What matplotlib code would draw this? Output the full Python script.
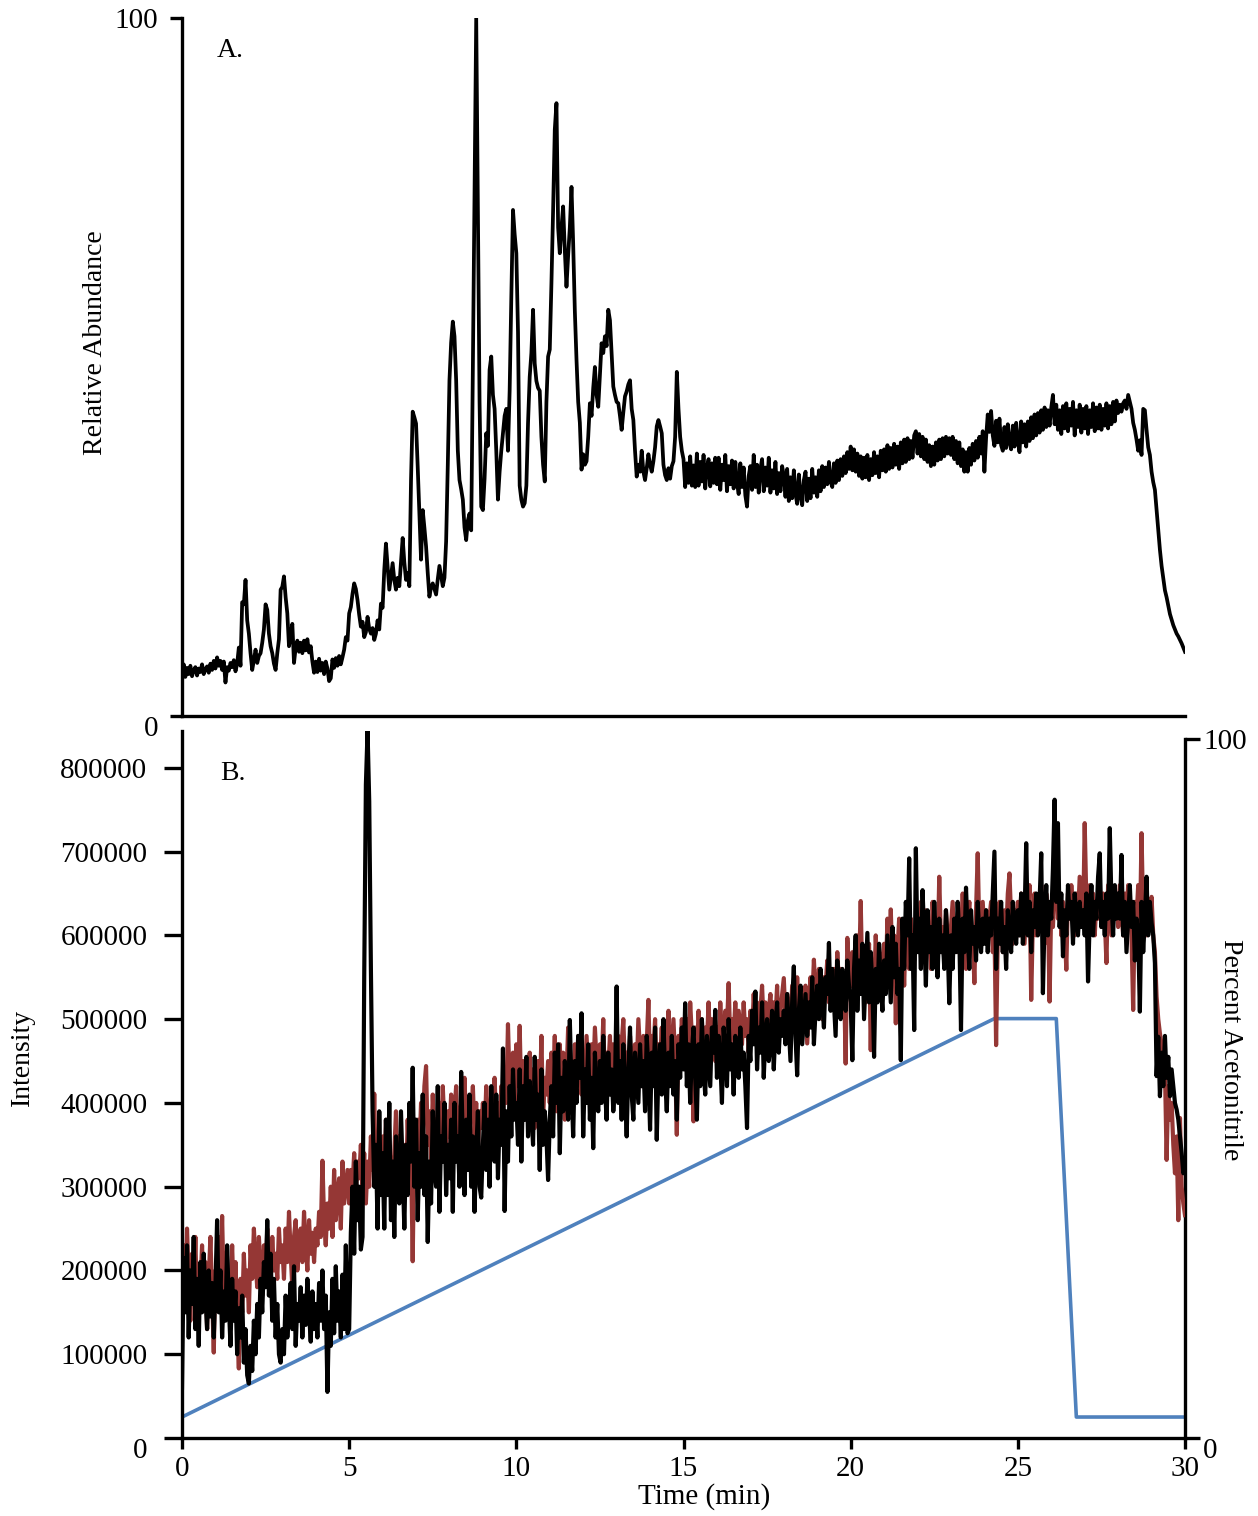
import numpy as np
import matplotlib
matplotlib.use("Agg")
from matplotlib import pyplot as plt

plt.rcParams['font.family'] = ['Liberation Serif', 'DejaVu Serif']
plt.rcParams['font.size'] = 20

# sampled every 0.05 min, one row per minute, last value at 30 min
abundance = [
    5.0, 7.4, 5.6, 6.9, 6.0, 7.2, 5.7, 6.6, 7.0, 5.8, 6.8, 6.3, 7.4, 6.0, 6.7, 7.1, 6.2, 7.5, 6.6, 7.9,
    6.8, 8.4, 7.2, 7.9, 6.6, 7.8, 4.8, 7.0, 6.5, 7.6, 7.0, 8.0, 6.4, 7.5, 9.8, 7.2, 16.3, 16.0, 19.5, 13.7,
    11.8, 9.0, 6.6, 8.0, 9.5, 7.6, 8.6, 9.0, 10.5, 12.4, 16.0, 15.2, 11.8, 10.0, 9.0, 7.5, 6.6, 9.0, 11.0, 18.1,
    18.5, 20.0, 17.0, 14.7, 10.0, 11.5, 13.2, 7.6, 9.8, 10.8, 9.2, 10.5, 9.0, 10.8, 9.4, 11.0, 9.1, 10.0, 7.8, 6.2,
    7.8, 6.3, 8.2, 6.5, 7.6, 6.0, 7.8, 6.8, 5.0, 5.4, 8.1, 6.9, 8.3, 7.2, 8.6, 7.4, 8.4, 9.5, 11.3, 10.8,
    14.7, 15.6, 17.5, 19.0, 18.2, 16.6, 14.5, 12.8, 13.5, 11.3, 12.0, 14.2, 12.5, 11.8, 12.6, 10.9, 11.8, 13.7, 12.4, 16.1,
    15.5, 20.9, 24.7, 21.5, 18.1, 20.0, 21.9, 19.5, 18.1, 19.8, 18.6, 22.0, 25.5, 22.0, 19.5, 20.5, 18.6, 33.8, 43.6, 42.8,
    41.9, 35.7, 29.0, 22.4, 29.5, 27.0, 24.3, 20.5, 17.1, 18.5, 19.0, 18.2, 17.4, 19.6, 21.5, 20.0, 18.6, 19.8, 25.0, 36.0,
    48.1, 53.5, 56.5, 54.4, 48.1, 38.0, 33.8, 32.5, 31.0, 27.0, 25.2, 28.0, 29.0, 26.6, 50.0, 75.0, 100.0, 72.0, 45.0, 30.0,
    29.5, 34.0, 40.5, 38.7, 49.6, 51.5, 46.0, 44.0, 38.0, 31.0, 35.0, 38.0, 40.5, 43.0, 44.0, 38.0, 46.6, 60.0, 72.5, 69.0,
    66.3, 55.0, 33.0, 31.0, 30.0, 30.5, 33.0, 42.0, 48.6, 52.0, 58.2, 50.5, 48.0, 47.0, 46.6, 40.0, 36.0, 33.6, 45.0, 51.5,
    52.5, 62.0, 72.5, 84.0, 87.8, 70.0, 66.3, 70.0, 73.0, 66.7, 61.5, 66.0, 70.0, 75.8, 67.7, 58.0, 51.0, 45.0, 42.0, 35.3,
    37.5, 36.0, 36.5, 40.0, 44.8, 43.0, 47.0, 50.0, 46.0, 44.3, 49.0, 53.4, 52.0, 54.4, 53.0, 58.2, 56.7, 52.0, 47.2, 46.0,
    45.0, 44.8, 43.0, 41.0, 43.5, 45.8, 46.5, 47.5, 48.1, 44.0, 42.4, 38.0, 34.3, 36.0, 35.0, 38.0, 35.0, 33.8, 35.5, 37.5,
    36.0, 35.0, 36.5, 38.5, 41.5, 42.4, 41.5, 40.5, 36.0, 34.5, 33.8, 35.5, 34.0, 35.8, 36.5, 40.0, 49.3, 44.0, 40.0, 38.0,
    36.8, 32.8, 36.2, 33.4, 37.2, 33.0, 35.9, 32.8, 37.6, 33.0, 36.4, 33.6, 37.4, 32.6, 35.6, 36.8, 32.9, 36.2, 33.4, 37.0,
    33.2, 37.0, 32.4, 36.0, 33.8, 37.4, 32.2, 35.8, 33.2, 36.6, 32.6, 36.4, 33.4, 31.8, 36.2, 32.8, 35.6, 31.6, 30.0, 34.4,
    35.8, 32.4, 37.4, 32.8, 36.0, 32.0, 35.4, 36.8, 32.2, 35.6, 33.0, 37.0, 32.0, 35.2, 32.6, 36.4, 31.8, 34.8, 32.2, 35.8,
    34.4, 31.4, 35.4, 30.8, 34.2, 31.2, 35.2, 31.8, 30.4, 34.6, 31.6, 30.2, 33.8, 35.0, 30.8, 34.0, 31.2, 35.4, 32.0, 34.2,
    31.4, 35.2, 32.2, 35.8, 32.8, 35.6, 33.2, 36.4, 33.6, 32.8, 36.2, 33.4, 36.6, 33.8, 36.8, 34.4, 37.2, 34.8, 37.8, 35.4,
    38.6, 35.2, 38.2, 35.0, 37.6, 34.4, 37.2, 34.0, 37.0, 34.2, 37.4, 33.8, 36.8, 34.5, 37.8, 34.8, 37.2, 34.2, 38.0, 35.2,
    38.2, 35.0, 38.8, 35.4, 38.4, 35.6, 39.0, 36.0, 38.6, 35.4, 39.2, 36.2, 39.6, 36.4, 39.8, 36.8, 39.4, 37.0, 40.2, 40.8,
    37.6, 40.4, 37.2, 40.0, 36.8, 39.6, 36.4, 38.8, 35.8, 38.6, 36.0, 39.2, 36.6, 39.6, 36.8, 39.8, 37.2, 40.0, 37.6, 39.8,
    37.4, 40.0, 36.8, 39.4, 36.2, 39.2, 35.8, 38.2, 35.0, 37.8, 35.0, 38.4, 36.0, 39.0, 36.6, 39.4, 37.0, 40.0, 37.6, 40.8,
    35.0, 39.8, 43.2, 40.7, 43.7, 40.2, 38.7, 42.3, 39.2, 42.6, 38.8, 38.0, 41.4, 38.4, 41.8, 39.2, 38.2, 41.6, 38.6, 42.0,
    39.4, 37.8, 42.2, 39.2, 41.8, 38.6, 42.2, 39.4, 42.8, 39.8, 43.2, 40.2, 43.4, 40.6, 43.8, 41.0, 44.2, 41.4, 43.8, 41.6,
    44.2, 46.0, 41.8, 44.6, 41.0, 43.8, 40.4, 44.4, 41.2, 44.8, 40.8, 44.0, 41.6, 45.0, 40.2, 43.8, 41.4, 44.6, 40.6, 44.0,
    41.2, 44.4, 40.4, 43.8, 41.4, 44.8, 40.8, 44.2, 41.2, 44.6, 41.0, 44.0, 41.6, 44.8, 41.2, 44.4, 41.8, 45.0, 42.2, 45.2,
    43.4, 44.6, 43.6, 44.8, 45.2, 44.0, 46.0, 45.0, 44.0, 42.0, 41.0, 39.6, 38.0, 39.5, 37.4, 44.0, 43.8, 41.0, 38.5, 37.4,
    35.0, 33.5, 32.4, 29.5, 26.5, 23.8, 21.5, 19.8, 18.0, 17.0, 15.8, 14.6, 13.8, 13.0, 12.4, 11.8, 11.4, 10.9, 10.4, 9.8,
    9.2,
]

# intensity in thousands, same 0.05 min sampling
intensity_black = [
    60, 215, 150, 230, 120, 200, 160, 240, 130, 190, 110, 210, 150, 220, 170, 130, 200, 145, 185, 120,
    180, 260, 150, 200, 120, 175, 140, 230, 160, 110, 190, 140, 175, 100, 155, 120, 170, 90, 130, 75,
    65, 110, 80, 140, 100, 160, 120, 190, 150, 210, 180, 260, 170, 220, 140, 190, 120, 160, 100, 90,
    130, 100, 170, 120, 150, 185, 130, 205, 110, 160, 140, 180, 120, 170, 135, 190, 150, 115, 175, 130,
    160, 120, 185, 140, 200, 130, 170, 55, 150, 110, 190, 125, 205, 140, 175, 120, 195, 130, 230, 125,
    130, 245, 300, 220, 330, 260, 300, 225, 240, 550, 780, 844, 760, 560, 390, 300, 350, 250, 390, 290,
    340, 250, 380, 290, 400, 260, 330, 240, 360, 300, 280, 390, 320, 250, 350, 290, 400, 330, 442, 300,
    380, 260, 340, 300, 410, 290, 360, 234, 330, 280, 390, 320, 300, 420, 270, 360, 330, 400, 290, 350,
    310, 380, 270, 400, 330, 360, 300, 437, 350, 290, 380, 320, 410, 300, 360, 270, 340, 390, 300, 287,
    350, 400, 320, 380, 300, 420, 360, 330, 410, 310, 380, 350, 465, 271, 390, 330, 420, 360, 440, 380,
    400, 350, 440, 330, 420, 380, 455, 360, 426, 390, 350, 455, 380, 410, 320, 440, 350, 390, 360, 308,
    380, 420, 360, 460, 400, 470, 340, 430, 390, 450, 410, 380, 499, 420, 360, 450, 400, 480, 430, 507,
    360, 440, 400, 470, 380, 430, 346, 460, 410, 390, 450, 400, 480, 420, 380, 460, 410, 440, 390, 420,
    539, 400, 450, 380, 470, 420, 360, 440, 490, 410, 380, 460, 430, 400, 470, 420, 450, 390, 480, 440,
    368, 460, 420, 490, 356, 440, 470, 410, 500, 430, 390, 460, 420, 480, 410, 450, 380, 470, 430, 490,
    440, 519, 420, 470, 400, 460, 490, 430, 380, 470, 420, 500, 440, 410, 480, 450, 420, 490, 460, 511,
    430, 480, 450, 400, 490, 460, 420, 500, 440, 470, 410, 480, 450, 430, 490, 440, 460, 420, 370, 480,
    450, 510, 470, 533, 440, 490, 460, 520, 430, 480, 500, 450, 470, 510, 440, 490, 520, 460, 500, 480,
    510, 470, 530, 490, 450, 520, 563, 480, 433, 510, 540, 470, 500, 530, 480, 520, 490, 550, 470, 510,
    540, 500, 560, 520, 490, 550, 530, 591, 510, 560, 520, 480, 570, 540, 500, 560, 530, 510, 570, 540,
    520, 451, 560, 600, 510, 570, 530, 590, 500, 550, 603, 520, 580, 540, 455, 560, 520, 590, 540, 510,
    570, 530, 600, 560, 520, 610, 550, 590, 530, 560, 451, 620, 560, 640, 600, 692, 560, 600, 487, 704,
    580, 620, 560, 654, 600, 540, 630, 580, 610, 560, 640, 590, 550, 620, 580, 600, 560, 630, 590, 519,
    600, 560, 620, 580, 640, 600, 487, 620, 580, 657, 600, 560, 630, 590, 610, 570, 640, 600, 580, 620,
    590, 630, 580, 620, 600, 650, 700, 560, 620, 590, 640, 580, 610, 560, 630, 600, 580, 640, 610, 590,
    630, 600, 650, 590, 620, 710, 600, 640, 580, 630, 610, 650, 600, 640, 698, 531, 620, 660, 600, 640,
    620, 680, 762, 640, 734, 610, 650, 575, 630, 600, 660, 620, 640, 590, 650, 620, 600, 640, 610, 630,
    600, 650, 545, 620, 660, 600, 640, 620, 670, 698, 610, 640, 600, 650, 620, 728, 640, 600, 660, 620,
    650, 620, 696, 600, 640, 580, 620, 660, 610, 640, 570, 620, 600, 509, 640, 580, 620, 670, 600, 640,
    615, 600, 567, 432, 479, 408, 460, 420, 480, 430, 455, 408, 440, 420, 400, 392, 380, 360, 340, 316,
    320,
]

intensity_red = [
    175, 230, 160, 250, 190, 140, 220, 170, 240, 150, 200, 180, 230, 160, 210, 130, 190, 240, 170, 102,
    200, 160, 240, 190, 265, 170, 220, 150, 200, 180, 230, 160, 210, 140, 83, 190, 150, 220, 170, 200,
    150, 230, 190, 250, 210, 180, 240, 200, 170, 230, 190, 250, 210, 180, 240, 200, 220, 190, 250, 210,
    230, 190, 250, 210, 270, 220, 180, 240, 260, 200, 230, 250, 210, 270, 230, 200, 260, 220, 245, 210,
    250, 230, 270, 240, 331, 260, 230, 280, 250, 300, 240, 320, 260, 290, 310, 250, 330, 280, 300, 320,
    280, 320, 300, 340, 290, 330, 310, 350, 300, 340, 280, 330, 300, 360, 320, 411, 300, 340, 290, 330,
    360, 310, 380, 300, 350, 320, 270, 340, 390, 310, 360, 330, 290, 350, 300, 380, 320, 340, 211, 360,
    330, 380, 340, 400, 360, 420, 444, 350, 390, 330, 410, 360, 380, 320, 400, 350, 420, 370, 340, 390,
    360, 410, 350, 390, 420, 340, 380, 400, 360, 430, 370, 350, 400, 380, 420, 360, 400, 340, 390, 370,
    400, 360, 420, 380, 350, 410, 390, 430, 370, 400, 360, 420, 380, 440, 400, 494, 420, 380, 460, 400,
    470, 420, 492, 400, 450, 380, 430, 410, 460, 390, 440, 370, 420, 450, 400, 480, 380, 430, 410, 450,
    400, 460, 420, 480, 390, 440, 470, 410, 460, 380, 430, 490, 420, 450, 400, 470, 430, 480, 440, 410,
    460, 420, 480, 440, 400, 470, 430, 490, 450, 410, 470, 440, 500, 420, 460, 440, 480, 410, 470, 430,
    450, 480, 420, 470, 500, 440, 460, 410, 480, 450, 430, 470, 440, 500, 460, 420, 480, 450, 470, 523,
    440, 480, 460, 500, 430, 470, 450, 490, 420, 480, 460, 510, 440, 470, 500, 450, 362, 480, 460, 500,
    470, 440, 500, 460, 520, 480, 378, 490, 450, 510, 470, 500, 440, 490, 470, 520, 460, 500, 480, 450,
    490, 470, 520, 480, 450, 510, 490, 543, 470, 500, 480, 520, 460, 510, 490, 470, 520, 480, 500, 460,
    510, 480, 530, 490, 520, 470, 510, 540, 490, 520, 480, 510, 530, 490, 520, 500, 540, 480, 510, 530,
    549, 500, 530, 510, 490, 540, 520, 500, 550, 510, 530, 490, 520, 540, 471, 510, 550, 520, 571, 530,
    520, 560, 530, 500, 550, 540, 570, 520, 550, 530, 560, 510, 580, 540, 560, 520, 550, 447, 597, 560,
    540, 580, 520, 560, 600, 550, 641, 540, 580, 520, 560, 590, 463, 570, 530, 600, 550, 580, 540, 570,
    590, 550, 620, 570, 631, 560, 600, 495, 580, 620, 560, 600, 540, 610, 580, 560, 620, 590, 570, 600,
    620, 580, 640, 600, 570, 630, 590, 610, 560, 640, 600, 620, 580, 670, 590, 610, 570, 630, 600, 580,
    610, 640, 590, 620, 580, 630, 600, 650, 610, 560, 620, 640, 590, 600, 543, 630, 698, 600, 620, 640,
    600, 630, 590, 620, 640, 580, 610, 469, 600, 640, 610, 580, 630, 600, 650, 674, 620, 590, 630, 610,
    640, 600, 650, 620, 590, 640, 610, 660, 523, 620, 650, 600, 640, 610, 660, 620, 590, 650, 630, 521,
    640, 610, 660, 706, 620, 650, 600, 640, 610, 559, 650, 620, 660, 630, 600, 650, 620, 670, 640, 610,
    734, 640, 610, 660, 620, 650, 600, 640, 620, 660, 610, 650, 620, 567, 660, 630, 600, 650, 620, 640,
    610, 660, 630, 600, 650, 620, 660, 630, 600, 511, 640, 620, 660, 600, 722, 620, 650, 600, 640, 610,
    646, 600, 580, 527, 500, 483, 470, 450, 440, 332, 420, 380, 400, 350, 316, 360, 260, 382, 300, 280,
    266,
]

gradient_time = [0, 24.3, 26.15, 26.75, 30]
gradient_pct = [3, 60, 60, 3, 3]

x_ticks = [0, 5, 10, 15, 20, 25, 30]
int_ticks = [0, 100000, 200000, 300000, 400000, 500000, 600000, 700000, 800000]

W, H = 1258, 1516
fig = plt.figure(figsize=(W / 100, H / 100), dpi=100)

LW_AX = 2.4
TICK_FS = 21

# ---- panel A ----
ax_a = fig.add_axes([182 / W, 1 - 716 / H, 1003 / W, 698 / H])
t_a = np.linspace(0, 30, len(abundance))
ax_a.plot(t_a, abundance, color='black', lw=2.7, solid_joinstyle='round')
ax_a.set_xlim(0, 30)
ax_a.set_ylim(0, 100)
for s in ['top', 'right']:
    ax_a.spines[s].set_visible(False)
for s in ['left', 'bottom']:
    ax_a.spines[s].set_linewidth(LW_AX)
ax_a.set_xticks([])
ax_a.set_yticks([0, 100])
ax_a.tick_params(axis='y', direction='out', length=9, width=LW_AX, pad=8, labelsize=TICK_FS)
ax_a.get_yticklabels()[0].set_va('top')
ax_a.text(0.048, 0.954, 'A.', transform=ax_a.transAxes, ha='center', va='center', fontsize=20)

# ---- panel B ----
ax_b = fig.add_axes([182 / W, 1 - 1438 / H, 1003 / W, 707 / H])
ax_r = ax_b.twinx()
ax_b.set_zorder(ax_r.get_zorder() + 1)
ax_b.patch.set_visible(False)

t_b = np.linspace(0, 30, len(intensity_black))
ax_b.plot(t_b, np.array(intensity_red) * 1000, color='#953735', lw=3.0)
ax_b.plot(t_b, np.array(intensity_black) * 1000, color='black', lw=3.0)
ax_b.set_xlim(0, 30)
ax_b.set_ylim(0, 844000)
for s in ['top', 'right']:
    ax_b.spines[s].set_visible(False)
for s in ['left', 'bottom']:
    ax_b.spines[s].set_linewidth(LW_AX)
ax_b.set_xticks(x_ticks)
ax_b.set_yticks(int_ticks)
ax_b.tick_params(axis='y', direction='out', length=13, width=LW_AX, pad=12, labelsize=TICK_FS)
ax_b.tick_params(axis='x', direction='out', length=8, width=LW_AX, pad=5, labelsize=TICK_FS)
ax_b.get_yticklabels()[0].set_va('top')
ax_b.text(0.051, 0.94, 'B.', transform=ax_b.transAxes, ha='center', va='center', fontsize=20)

ax_r.plot(gradient_time, gradient_pct, color='#4f81bd', lw=2.6)
ax_r.set_ylim(0, 100 * 707 / 699)
for s in ['top', 'left', 'bottom']:
    ax_r.spines[s].set_visible(False)
ax_r.spines['right'].set_linewidth(LW_AX)
ax_r.spines['right'].set_bounds(0, 100)
ax_r.set_yticks([0, 100])
ax_r.tick_params(axis='y', direction='out', length=11, width=LW_AX, pad=2, labelsize=TICK_FS)
ax_r.get_yticklabels()[0].set_va('top')

# axis titles
fig.text(95 / W, 1 - 343 / H, 'Relative Abundance', rotation=90, ha='center', va='center', fontsize=20)
fig.text(22 / W, 1 - 1057 / H, 'Intensity', rotation=90, ha='center', va='center', fontsize=20)
fig.text(1230 / W, 1 - 1050 / H, 'Percent Acetonitrile', rotation=270, ha='center', va='center', fontsize=20)
fig.text(704 / W, 1 - 1497 / H, 'Time (min)', ha='center', va='center', fontsize=TICK_FS)

fig.savefig('out.png', dpi=100)
